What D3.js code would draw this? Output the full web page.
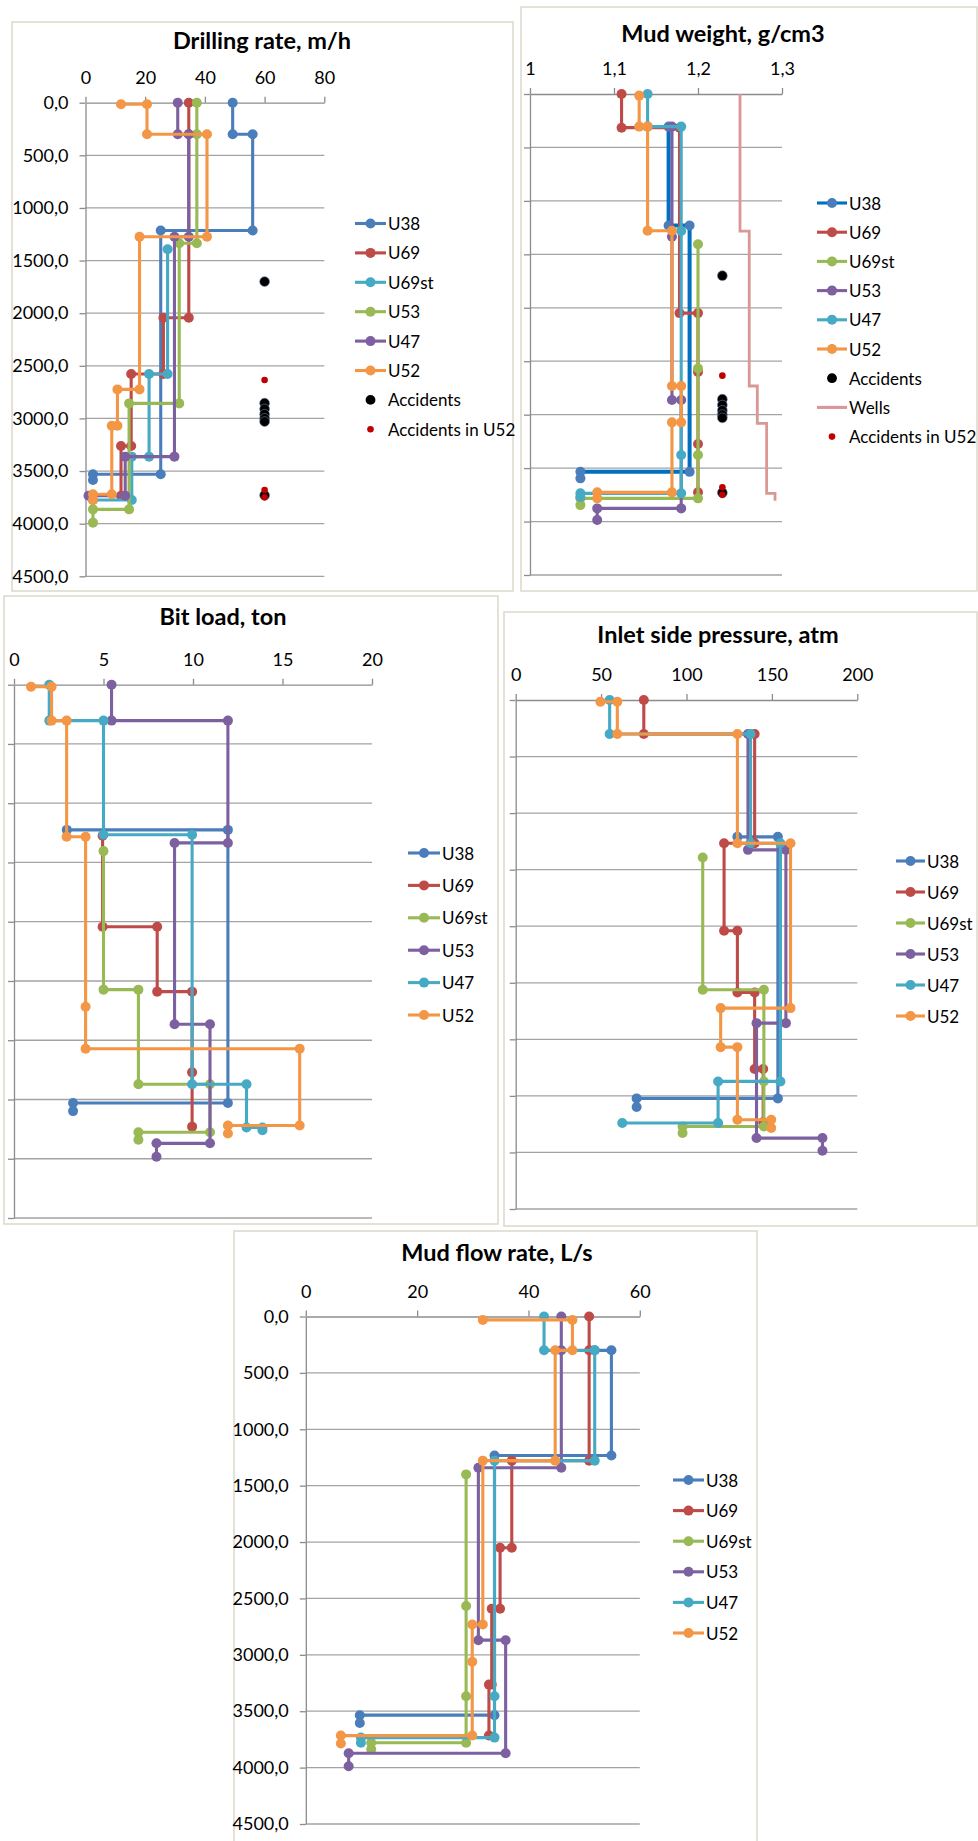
<!DOCTYPE html>
<html><head><meta charset="utf-8">
<script src="https://cdn.jsdelivr.net/npm/d3@7/dist/d3.min.js"></script>
<style>
body{margin:0;background:#fff}
svg{display:block}
text{font-family:Lato,"Liberation Sans",sans-serif}
</style>
</head><body>
<svg id="c" width="978" height="1841"></svg>
<script>
// ---------- shared ----------
const wellNames = ["U38","U69","U69st","U53","U47","U52"];
const depthTicks = [0,500,1000,1500,2000,2500,3000,3500,4000,4500];

// ---------- Drilling rate, m/h : [value, depth] ----------
const drillTicks = [0,20,40,60,80];
const drillU38   = [[49.3,0],[49.3,300],[56,300],[56,1215],[25.2,1215],[25.2,3530],[2.5,3530],[2.5,3585]];
const drillU69   = [[34.6,0],[34.6,300],[34.6,2043],[26.1,2043],[26.1,2578],[15.3,2578],[15.3,3262],[11.9,3262],[11.9,3734]];
const drillU69st = [[27.5,1393],[27.5,2578],[21.3,2578],[21.3,3363],[15.5,3363],[15.5,3775],[2.5,3775]];
const drillU53   = [[37.3,0],[37.3,300],[37.3,1336],[31.4,1336],[31.4,2857],[14.6,2857],[14.6,3864],[2.5,3864],[2.5,3990]];
const drillU47   = [[30.9,0],[30.9,300],[34.6,300],[34.6,1273],[29.8,1273],[29.8,3363],[13.3,3363],[13.3,3734],[1,3734]];
const drillU52   = [[11.9,15],[20.6,15],[20.6,300],[40.7,300],[40.7,1273],[18.1,1273],[18.1,2724],[10.7,2724],[10.7,3069],[8.8,3069],[8.8,3721],[2.5,3721],[2.5,3775]];
const accidentDepths = [1700,2855,2910,2960,3000,3030,3730];
const accidentU52Depths = [2635,3680,3750];
const drillAccidentX = 60;

// ---------- Mud weight, g/cm3 ----------
const mudwTicks = [1,1.1,1.2,1.3];
const mudwU38   = [[1.165,305],[1.165,1230],[1.19,1230],[1.19,3535],[1.06,3535],[1.06,3596]];
const mudwU69   = [[1.109,0],[1.109,315],[1.178,315],[1.178,2050],[1.2,2050],[1.2,2600],[1.2,3275],[1.2,3727]];
const mudwU69st = [[1.2,1405],[1.2,2567],[1.2,3378],[1.2,3783],[1.06,3783],[1.06,3846]];
const mudwU53   = [[1.169,305],[1.169,1335],[1.169,2863],[1.18,2863],[1.18,3877],[1.08,3877],[1.08,3986]];
const mudwU47   = [[1.14,0],[1.14,305],[1.18,305],[1.18,1282],[1.18,3378],[1.18,3736],[1.06,3736],[1.06,3770]];
const mudwU52   = [[1.13,15],[1.13,305],[1.14,305],[1.14,1279],[1.169,1279],[1.169,2732],[1.18,2732],[1.18,3072],[1.169,3072],[1.169,3727],[1.08,3727],[1.08,3783]];
const mudwWells = [[1.25,0],[1.25,1282],[1.261,1282],[1.261,2732],[1.2706,2732],[1.2706,3082],[1.2817,3082],[1.2817,3736],[1.2917,3736],[1.2917,3805]];
const mudwAccidentX = 1.229;

// ---------- Bit load, ton ----------
const bitTicks = [0,5,10,15,20];
const bitU38   = [[2.95,1225],[11.95,1225],[11.95,3530],[3.3,3530],[3.3,3598]];
const bitU69   = [[4.95,1275],[4.95,2043],[8,2043],[8,2590],[9.95,2590],[9.95,3271],[9.95,3729]];
const bitU69st = [[5,1404],[5,2573],[6.95,2573],[6.95,3371],[10.95,3371],[10.95,3777],[6.95,3777],[6.95,3839]];
const bitU53   = [[5.45,0],[5.45,303],[11.95,303],[11.95,1335],[8.97,1335],[8.97,2865],[10.95,2865],[10.95,3870],[7.96,3870],[7.96,3983]];
const bitU47   = [[1.97,0],[1.97,303],[5,303],[5,1266],[9.95,1266],[9.95,3371],[12.99,3371],[12.99,3736],[13.88,3736],[13.88,3760]];
const bitU52   = [[0.95,17],[2.1,17],[2.1,303],[2.94,303],[2.94,1283],[4,1283],[4,2718],[4,3072],[15.96,3072],[15.96,3719],[11.95,3719],[11.95,3787]];

// ---------- Inlet side pressure, atm ----------
const presTicks = [0,50,100,150,200];
const presU38   = [[129.8,1210],[153.5,1210],[153.5,3522],[70.8,3522],[70.8,3598]];
const presU69   = [[75,0],[75,300],[139.9,300],[139.9,1266],[122,1266],[122,2040],[129.8,2040],[129.8,2586],[139.9,2586],[139.9,3263],[144.9,3263],[144.9,3734]];
const presU69st = [[109.5,1393],[109.5,2562],[145.3,2562],[145.3,3372],[145.3,3770],[97.7,3770],[97.7,3828]];
const presU53   = [[136,300],[136,1325],[158.2,1325],[158.2,2857],[141,2857],[141,3873],[179.6,3873],[179.6,3985]];
const presU47   = [[55,0],[55,300],[137.5,300],[137.5,1266],[155,1266],[155,3372],[118.5,3372],[118.5,3740],[62.4,3740]];
const presU52   = [[49.6,15],[59.5,15],[59.5,300],[129.8,300],[129.8,1266],[160.9,1266],[160.9,2724],[120,2724],[120,3069],[129.8,3069],[129.8,3711],[149.6,3711],[149.6,3784]];

// ---------- Mud flow rate, L/s ----------
const flowTicks = [0,20,40,60];
const flowU38   = [[51.9,300],[54.9,300],[54.9,1233],[33.9,1233],[33.9,3535],[9.7,3535],[9.7,3605]];
const flowU69   = [[50.9,0],[50.9,300],[50.9,1278],[37,1278],[37,2051],[34.9,2051],[34.9,2591],[33.4,2591],[33.4,3264],[32.9,3264],[32.9,3716]];
const flowU69st = [[28.8,1400],[28.8,2567],[28.8,3368],[28.8,3779],[11.75,3779],[11.75,3838]];
const flowU53   = [[45.9,0],[45.9,300],[45.9,1341],[31,1341],[31,2870],[35.9,2870],[35.9,3873],[7.7,3873],[7.7,3988]];
const flowU47   = [[42.8,0],[42.8,300],[51.9,300],[51.9,1278],[33.9,1278],[33.9,3368],[33.9,3734],[9.9,3734],[9.9,3779]];
const flowU52   = [[31.8,30],[47.9,30],[47.9,300],[44.8,300],[44.8,1278],[31.8,1278],[31.8,2731],[29.9,2731],[29.9,3062],[29.9,3716],[6.3,3716],[6.3,3786]];

// ---------- styles ----------
const C = {blue:"#4a7ebb", red:"#be4b48", green:"#98b954", purple:"#7d60a0", teal:"#46aac5", orange:"#f39646"};
const colorsA = [C.blue, C.red, C.teal, C.green, C.purple, C.orange];   // first chart palette
const colorsB = [C.blue, C.red, C.green, C.purple, C.teal, C.orange];   // other charts
const fmtDepth = d => d3.format(".1f")(d).replace(".", ",");
const fmtComma = d => String(d).replace(".", ",");
const LW = 3.1, MR = 5;

const svg = d3.select("#c");

function drawPanel(p){
  const g = svg.append("g");
  g.append("rect")
    .attr("x", p.frame[0]).attr("y", p.frame[1])
    .attr("width", p.frame[2]-p.frame[0]).attr("height", p.frame[3]-p.frame[1])
    .attr("fill", "#fff").attr("stroke", "#dedbcd").attr("stroke-width", 1.6);
  g.append("text").attr("x", p.titleX).attr("y", p.titleY)
    .attr("text-anchor","middle").attr("dominant-baseline","central")
    .attr("font-weight","bold").attr("font-size", 23.5).attr("fill","#000").text(p.title);

  const x = d3.scaleLinear().domain(p.xDomain).range([p.left, p.right]);
  const y = d3.scaleLinear().domain([0,4500]).range([p.top, p.bottom]);

  g.append("g").selectAll("line").data(depthTicks.slice(1)).join("line")
    .attr("x1", p.left).attr("x2", p.right)
    .attr("y1", d => y(d)).attr("y2", d => y(d))
    .attr("stroke", "#a3a3a3").attr("stroke-width", 1.3);

  const xa = g.append("g").attr("transform", `translate(0,${p.top})`)
    .call(d3.axisTop(x).tickValues(p.xTicks).tickFormat(p.xFmt).tickSize(6).tickSizeOuter(0).tickPadding(13));
  const ya = g.append("g").attr("transform", `translate(${p.left},0)`)
    .call(d3.axisLeft(y).tickValues(depthTicks).tickFormat(p.yLabels ? fmtDepth : () => "").tickSize(6).tickSizeOuter(0).tickPadding(11));
  [xa, ya].forEach(a => {
    a.select(".domain").attr("stroke", "#8c8c8c").attr("stroke-width", 1.3);
    a.selectAll(".tick line").attr("stroke", "#8c8c8c").attr("stroke-width", 1.3);
    a.selectAll(".tick text").attr("font-size", 18).attr("fill", "#000")
      .style("font-family", "Lato, 'Liberation Sans', sans-serif");
  });

  const line = d3.line().x(d => x(d[0])).y(d => y(d[1]));

  if (p.wells){
    g.append("path").attr("d", line(p.wells)).attr("fill","none")
      .attr("stroke", "#d99795").attr("stroke-width", 2.8);
  }

  p.series.forEach((s, i) => {
    const col = p.colors[i];
    const lc = (p.lineColors && p.lineColors[i]) || col;
    g.append("path").attr("d", line(s)).attr("fill","none")
      .attr("stroke", lc).attr("stroke-width", (p.lineWidths && p.lineWidths[i]) || LW)
      .attr("stroke-linejoin","round");
    g.append("g").selectAll("circle").data(s).join("circle")
      .attr("cx", d => x(d[0])).attr("cy", d => y(d[1])).attr("r", MR)
      .attr("fill", col);
  });

  if (p.accX !== undefined){
    g.append("g").selectAll("circle").data(accidentDepths).join("circle")
      .attr("cx", x(p.accX)).attr("cy", d => y(d)).attr("r", 4.9)
      .attr("fill", "#000").attr("stroke","#6d7fa6").attr("stroke-width",0.6);
    g.append("g").selectAll("circle").data(accidentU52Depths).join("circle")
      .attr("cx", x(p.accX)).attr("cy", d => y(d)).attr("r", 3.3)
      .attr("fill", "#c00000");
  }

  // legend
  const L = p.legend;
  const items = wellNames.map((n, i) => ({name:n, type:"series", color:p.colors[i], lc:(p.lineColors && p.lineColors[i]) || p.colors[i]}));
  (L.extra || []).forEach(e => items.push(e));
  const lg = g.append("g");
  items.forEach((it, i) => {
    const yy = L.y + i * L.step;
    const xm = (L.x1 + L.x2) / 2;
    if (it.type === "series" || it.type === "line"){
      lg.append("line").attr("x1", L.x1).attr("x2", L.x2).attr("y1", yy).attr("y2", yy)
        .attr("stroke", it.lc || it.color).attr("stroke-width", LW);
    }
    if (it.type === "series")
      lg.append("circle").attr("cx", xm).attr("cy", yy).attr("r", MR).attr("fill", it.color);
    if (it.type === "dot")
      lg.append("circle").attr("cx", xm).attr("cy", yy).attr("r", it.r).attr("fill", it.color);
    lg.append("text").attr("x", L.tx).attr("y", yy).attr("dominant-baseline","central")
      .attr("font-size", 17).attr("fill","#000").text(it.name);
  });
}

const accLegend = [{name:"Accidents", type:"dot", color:"#000", r:4.9}];
const accU52Legend = {name:"Accidents in U52", type:"dot", color:"#c00000", r:3.3};

drawPanel({
  frame:[12,22,513,591], title:"Drilling rate, m/h", titleX:262, titleY:40,
  xDomain:[0,80], xTicks:drillTicks, xFmt:d3.format("d"),
  left:85.5, right:324.3, top:102.7, bottom:576.3, yLabels:true,
  series:[drillU38, drillU69, drillU69st, drillU53, drillU47, drillU52], colors:colorsA,
  accX:drillAccidentX,
  legend:{x1:355, x2:386, tx:388, y:223.5, step:29.4, extra:[...accLegend, accU52Legend]}
});

drawPanel({
  frame:[521,7,977,591], title:"Mud weight, g/cm3", titleX:723, titleY:33,
  xDomain:[1,1.3], xTicks:mudwTicks, xFmt:fmtComma,
  left:530, right:782, top:94, bottom:575, yLabels:false,
  series:[mudwU38, mudwU69, mudwU69st, mudwU53, mudwU47, mudwU52], colors:colorsB,
  lineColors:["#0070c0"], lineWidths:[4],
  wells:mudwWells, accX:mudwAccidentX,
  legend:{x1:817, x2:847, tx:849, y:203, step:29.2,
    extra:[...accLegend, {name:"Wells", type:"line", color:"#d99795"}, accU52Legend]}
});

drawPanel({
  frame:[4,596,498,1224], title:"Bit load, ton", titleX:223, titleY:616,
  xDomain:[0,20], xTicks:bitTicks, xFmt:d3.format("d"),
  left:14, right:372, top:684.7, bottom:1218, yLabels:false,
  series:[bitU38, bitU69, bitU69st, bitU53, bitU47, bitU52], colors:colorsB,
  legend:{x1:408, x2:440, tx:442, y:853, step:32.4}
});

drawPanel({
  frame:[504,612,977,1226], title:"Inlet side pressure, atm", titleX:718, titleY:634,
  xDomain:[0,200], xTicks:presTicks, xFmt:d3.format("d"),
  left:515.7, right:857.3, top:700, bottom:1209, yLabels:false,
  series:[presU38, presU69, presU69st, presU53, presU47, presU52], colors:colorsB,
  legend:{x1:896, x2:925, tx:927, y:861, step:31}
});

drawPanel({
  frame:[234,1231,757,1845], title:"Mud flow rate, L/s", titleX:497, titleY:1252,
  xDomain:[0,60], xTicks:flowTicks, xFmt:d3.format("d"),
  left:305.8, right:639.8, top:1316.5, bottom:1824, yLabels:true,
  series:[flowU38, flowU69, flowU69st, flowU53, flowU47, flowU52], colors:colorsB,
  legend:{x1:673, x2:704, tx:706, y:1480, step:30.6}
});
</script>
</body></html>
